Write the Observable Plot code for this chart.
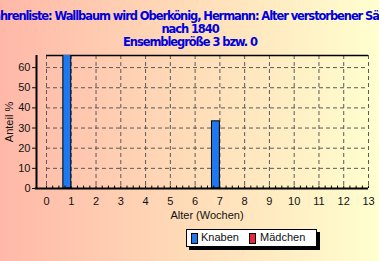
<!DOCTYPE html>
<html><head><meta charset="utf-8">
<script src="https://cdn.jsdelivr.net/npm/d3@7"></script>
<script src="https://cdn.jsdelivr.net/npm/@observablehq/plot@0.6"></script>
<style>
html,body{margin:0;padding:0;}
#wrap{position:relative;width:379px;height:261px;overflow:hidden;background:linear-gradient(to right,#ffb8a8 0%,#ffdcb8 50%,#ffffd0 100%);font-family:"Liberation Sans",Arial,sans-serif;}
#chart{position:absolute;left:0;top:0;}
.title{position:absolute;white-space:nowrap;color:#0000dd;font-family:"DejaVu Sans",sans-serif;font-weight:bold;font-size:11.5px;line-height:13px;}
.ylab{position:absolute;left:9px;top:122px;transform:translate(-50%,-50%) rotate(-90deg);font-size:11px;color:#111;white-space:nowrap;}
.xlab{position:absolute;left:207px;top:215px;transform:translate(-50%,-50%);font-size:11px;color:#111;white-space:nowrap;}
#legend{position:absolute;left:186px;top:229px;width:129px;height:16px;background:#fff;border:1px solid #000;box-shadow:3px 3px 0 #000;font-size:11px;color:#111;}
#legend .sw{position:absolute;top:3px;width:5px;height:9px;border:1px solid #000;}
#legend .lt{position:absolute;top:1px;}
</style></head>
<body>
<div id="wrap">
  <div id="chart"></div>
  <div class="title" id="t1"></div>
  <div class="title" id="t2"></div>
  <div class="title" id="t3"></div>
  <div class="ylab" id="ylab"></div>
  <div class="xlab" id="xlab"></div>
  <div id="legend"></div>
</div>
<script>
const titleLines = ["Vorfahrenliste: Wallbaum wird Oberkönig, Hermann: Alter verstorbener Säuglinge", "nach 1840", "Ensemblegröße 3 bzw. 0"];
const yLabel = "Anteil %";
const xLabel = "Alter (Wochen)";
const weeks = [0,1,2,3,4,5,6,7,8,9,10,11,12,13];
const knaben = [0,66.67,0,0,0,0,0,33.33,0,0,0,0,0,0];
const maedchen = [0,0,0,0,0,0,0,0,0,0,0,0,0,0];
const seriesNames = ["Knaben","Mädchen"];
const seriesColors = ["#1e78f0","#e8283a"];
const xTicks = weeks;
const yTicks = [0,10,20,30,40,50,60];
const minorXTicks = d3.range(0,13.001,0.25);

const data = weeks.map((w,i)=>({week:w, k:knaben[i], m:maedchen[i]}));

const plot = Plot.plot({
  width:379, height:261,
  marginLeft:46, marginRight:11, marginTop:55, marginBottom:73,
  style:{background:"transparent", fontFamily:"'Liberation Sans',Arial,sans-serif", fontSize:"11px", color:"#111", overflow:"visible"},
  x:{domain:[0,13]},
  y:{domain:[0,66]},
  marks:[
    Plot.gridX(xTicks,{stroke:"#5a5a5a",strokeOpacity:1,strokeDasharray:"4,3"}),
    Plot.gridY(yTicks.slice(1),{stroke:"#5a5a5a",strokeOpacity:1,strokeDasharray:"4,3"}),
    Plot.ruleY([66],{stroke:"#000",strokeWidth:1.5}),
    Plot.rectY(data.filter(d=>d.k>0),{x1:d=>d.week-0.32,x2:"week",y:"k",fill:seriesColors[0],stroke:"#000",strokeWidth:1,clip:true}),
    Plot.rectY(data.filter(d=>d.k===0),{x1:d=>d.week-0.32,x2:"week",y1:0,y2:0,stroke:"#8ab8f0",strokeWidth:1,dy:1}),
    Plot.ruleY([0],{x1:-0.45,x2:13,stroke:"#000",strokeWidth:2}),
    Plot.ruleX(minorXTicks,{y1:0,y2:1.2,stroke:"#000",strokeWidth:1}),
    Plot.ruleX([0],{y1:0,y2:66,dx:-10,stroke:"#000",strokeWidth:2}),
    Plot.axisX(xTicks,{tickSize:0,tickPadding:9,label:null,fill:"#111"}),
    Plot.axisY(yTicks,{anchor:"left",dx:-10,tickSize:4,tickPadding:2,label:null,fill:"#111"})
  ]
});
document.getElementById("chart").appendChild(plot);

document.getElementById("ylab").textContent = yLabel;
document.getElementById("xlab").textContent = xLabel;

// tighten letter spacing so the first line's visible part ("hrenliste ... Sä") spans the window
const wrap=document.getElementById("wrap");
function measure(txt,ls){
  const p=document.createElement("span");
  p.className="title";p.style.visibility="hidden";p.style.letterSpacing=ls+"px";p.textContent=txt;
  wrap.appendChild(p);const w=p.getBoundingClientRect().width;p.remove();return w;
}
const visiblePart="hrenliste: Wallbaum wird Oberkönig, Hermann: Alter verstorbener Sä";
const baseW=measure(visiblePart,0);
const ls=(379-baseW)/visiblePart.length;
const centers=[17,30,43];
titleLines.forEach((t,i)=>{
  const el=document.getElementById("t"+(i+1));
  el.textContent=t;
  el.style.letterSpacing=ls+"px";
  el.style.top=(centers[i]-7)+"px";
  if(i===0){
    el.style.left=(-measure("Vorfa",ls))+"px";
  } else {
    const w=el.getBoundingClientRect().width;
    el.style.left=(190-w/2)+"px";
  }
});
const lg=document.getElementById("legend");
const pos=[[4,14],[62,73]];
seriesNames.forEach((n,i)=>{
  const s=document.createElement("div");s.className="sw";s.style.left=pos[i][0]+"px";s.style.background=seriesColors[i];lg.appendChild(s);
  const t=document.createElement("div");t.className="lt";t.style.left=pos[i][1]+"px";t.textContent=n;lg.appendChild(t);
});
</script>
</body></html>
